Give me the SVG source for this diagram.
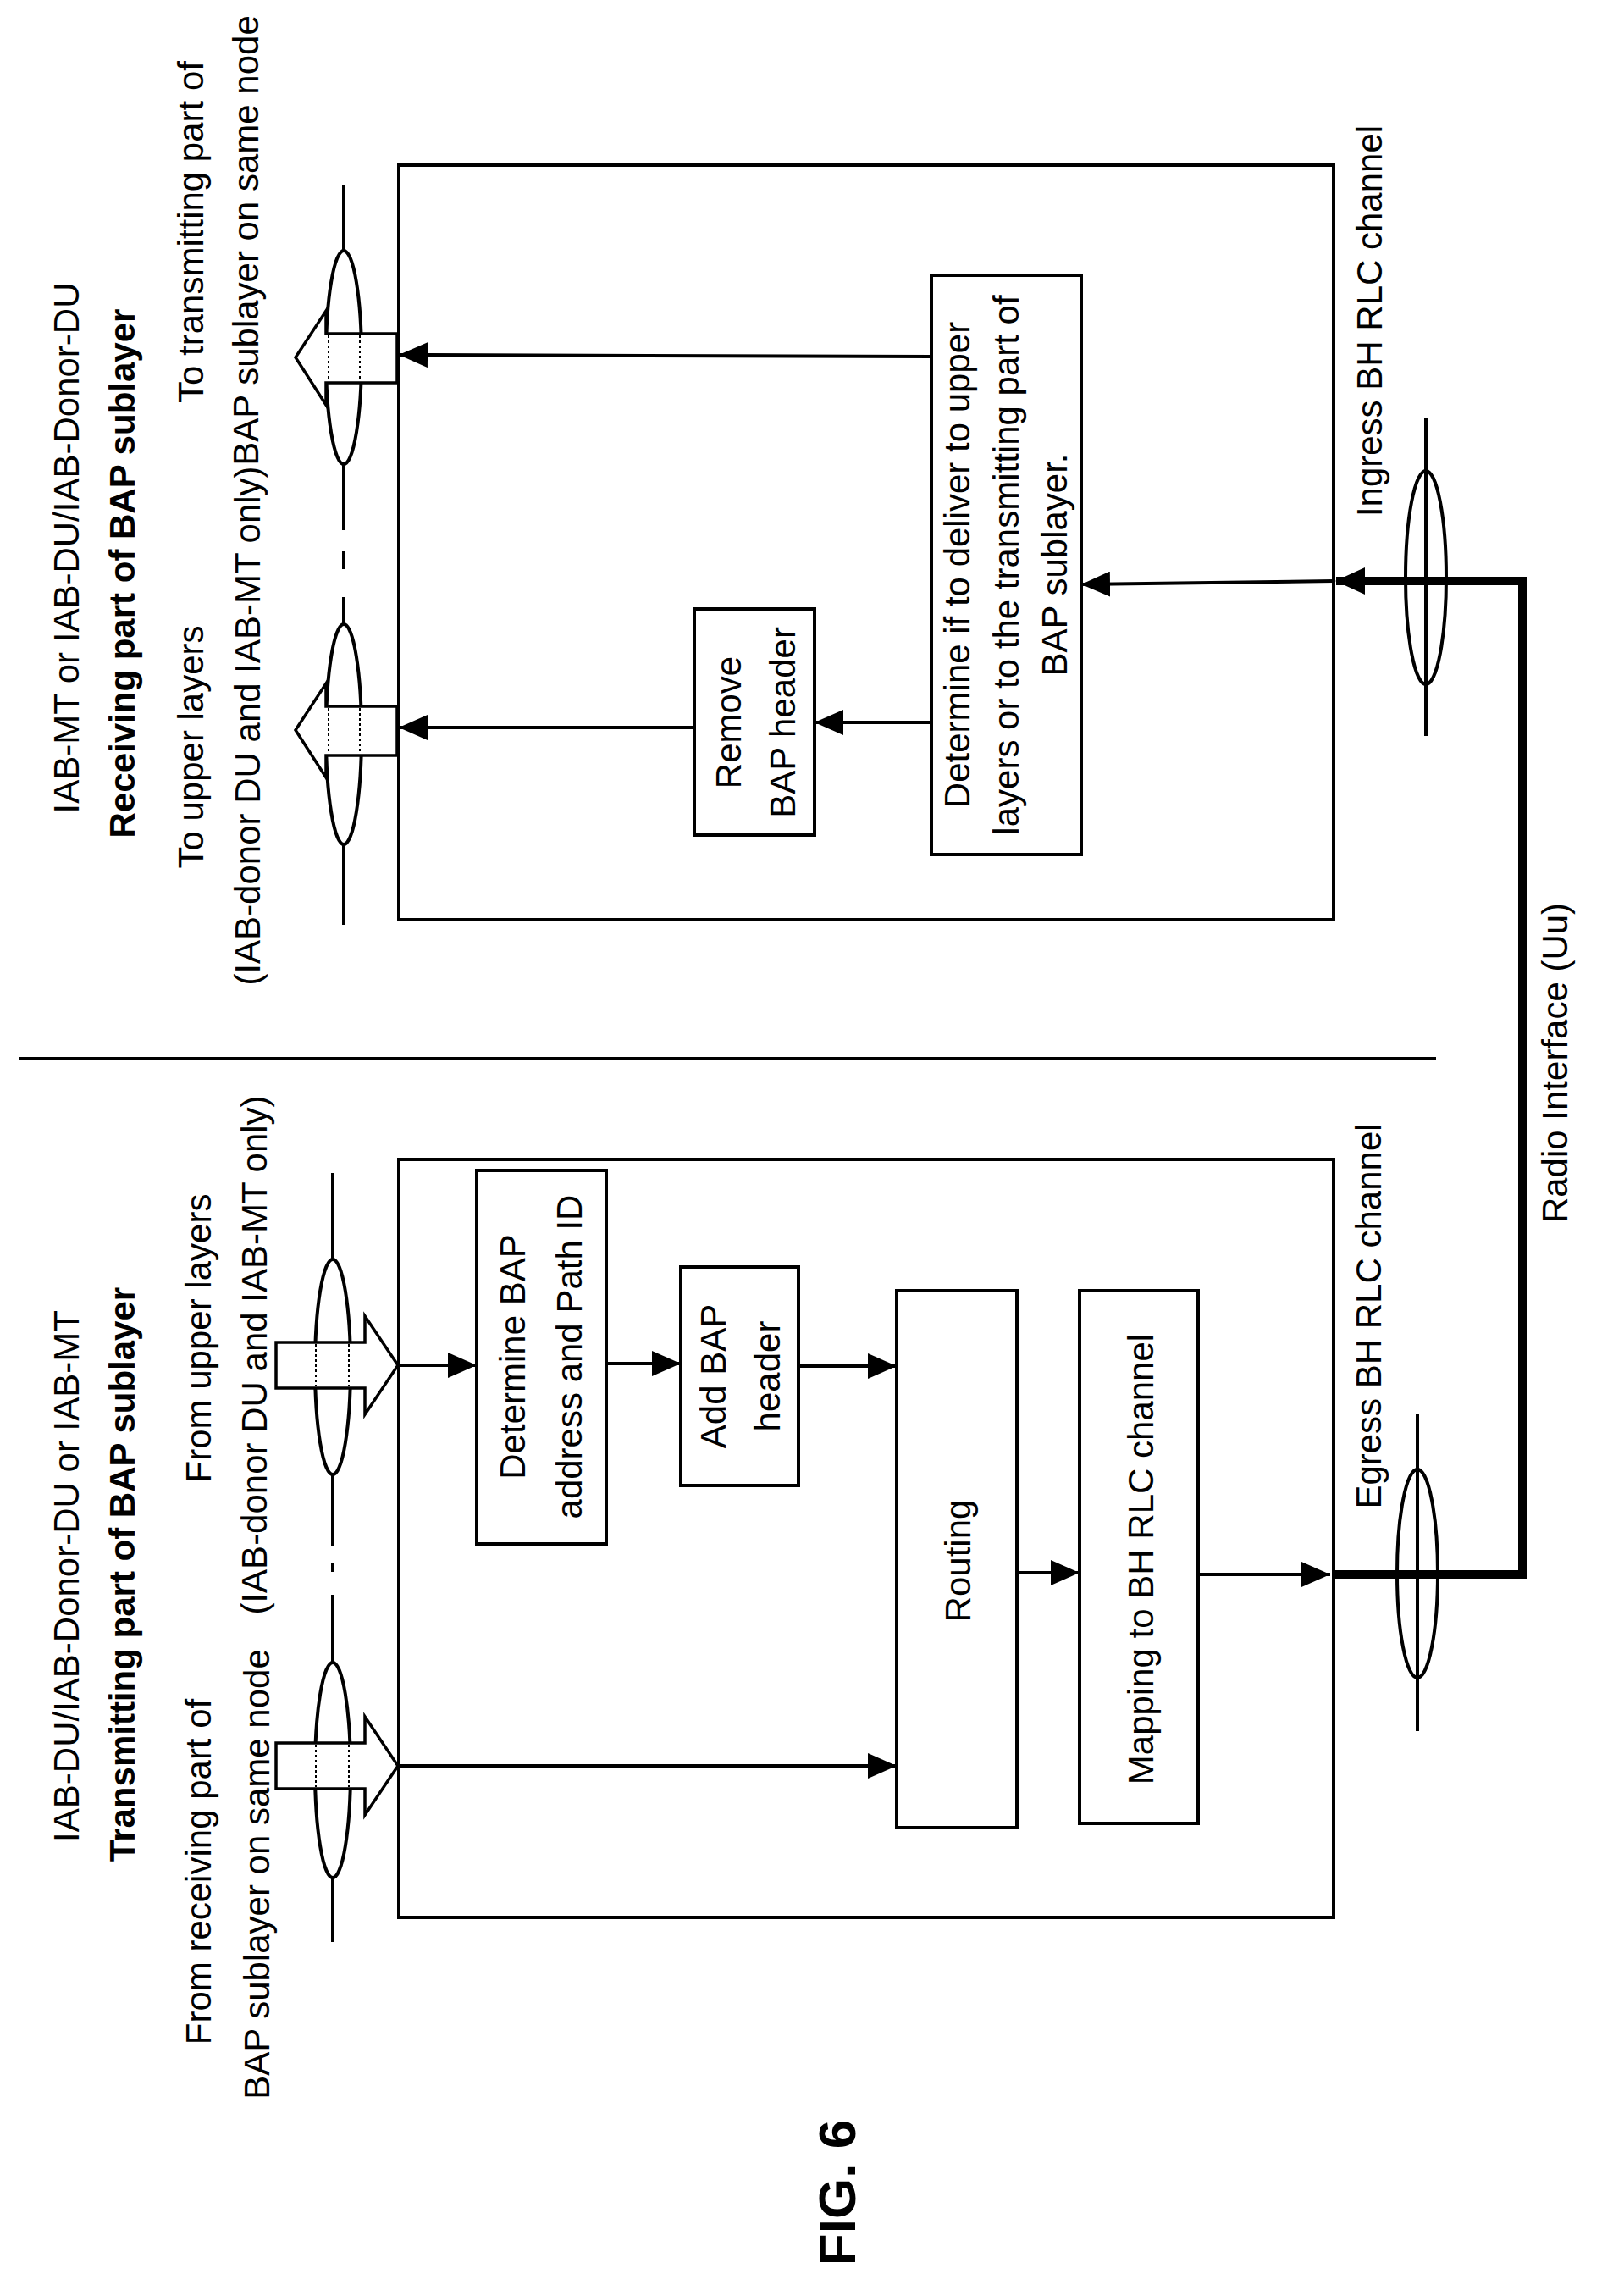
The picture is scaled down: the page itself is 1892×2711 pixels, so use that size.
<svg xmlns="http://www.w3.org/2000/svg" width="1892" height="2711" viewBox="0 0 1892 2711">
<style>
.t{font-family:"Liberation Sans",Arial,sans-serif;font-size:42px;fill:#000;text-anchor:middle;dominant-baseline:central}
.b{font-weight:bold}
.bx{fill:none;stroke:#000;stroke-width:4}
.ln{fill:none;stroke:#000;stroke-width:4}
.el{fill:#fff;stroke:#000;stroke-width:4}
.ha{fill:#fff;stroke:#000;stroke-width:3.5}
.hat{stroke:#000;stroke-width:2;stroke-dasharray:3 3}
.ar{fill:none;stroke:#000;stroke-width:4;marker-end:url(#ah)}
</style>
<defs>
<marker id="ah" markerUnits="userSpaceOnUse" markerWidth="36" markerHeight="30" refX="34" refY="15" orient="auto">
<path d="M0,0 L34,15 L0,30 Z" fill="#000"/>
</marker>
</defs>
<rect width="1892" height="2711" fill="#fff"/>

<!-- receiving part -->
<g id="rx_box"><rect class="bx" x="471" y="195" width="1104" height="891"/></g>
<g id="rx_title">
<text class="t" transform="translate(78,647) rotate(-90)">IAB-MT or IAB-DU/IAB-Donor-DU</text>
<text class="t b" transform="translate(144,677) rotate(-90)">Receiving part of BAP sublayer</text>
</g>
<g id="rx_port_tx">
<line class="ln" x1="406" y1="218" x2="406" y2="626"/>
<ellipse class="el" cx="406" cy="422" rx="21" ry="126"/>
<path class="ha" d="M469,394 L385,394 L385,367 L349,422 L385,478 L385,452 L469,452 Z"/>
<line class="hat" x1="388" y1="396" x2="388" y2="450"/>
<line class="hat" x1="425" y1="396" x2="425" y2="450"/>
<text class="t" transform="translate(225,274) rotate(-90)">To transmitting part of</text>
<text class="t" transform="translate(290,284) rotate(-90)">BAP sublayer on same node</text>
</g>
<g id="rx_port_upper">
<line class="ln" x1="406" y1="705" x2="406" y2="1092"/>
<line class="ln" x1="406" y1="651" x2="406" y2="672"/>
<ellipse class="el" cx="406" cy="867" rx="21" ry="130"/>
<path class="ha" d="M469,834 L385,834 L385,807 L349,862 L385,918 L385,892 L469,892 Z"/>
<line class="hat" x1="388" y1="836" x2="388" y2="890"/>
<line class="hat" x1="425" y1="836" x2="425" y2="890"/>
<text class="t" transform="translate(225,882) rotate(-90)">To upper layers</text>
<text class="t" transform="translate(292,857) rotate(-90)">(IAB-donor DU and IAB-MT only)</text>
</g>
<g id="remove_hdr">
<rect class="bx" x="820" y="719" width="142" height="267"/>
<text class="t" transform="translate(860,853) rotate(-90)">Remove</text>
<text class="t" transform="translate(924,853) rotate(-90)">BAP header</text>
</g>
<g id="determine_if">
<rect class="bx" x="1100" y="325" width="177" height="684"/>
<text class="t" transform="translate(1130,667) rotate(-90)">Determine if to deliver to upper</text>
<text class="t" transform="translate(1188,667) rotate(-90)">layers or to the transmitting part of</text>
<text class="t" transform="translate(1245,667) rotate(-90)">BAP sublayer.</text>
</g>
<g id="ingress">
<line class="ln" x1="1684" y1="494" x2="1684" y2="869"/>
<ellipse class="el" cx="1684" cy="682" rx="24" ry="126" fill="none" style="fill:none"/>
<text class="t" transform="translate(1617,379) rotate(-90)">Ingress BH RLC channel</text>
</g>

<!-- divider -->
<line id="divider" class="ln" x1="22" y1="1250" x2="1696" y2="1250"/>

<!-- transmitting part -->
<g id="tx_box"><rect class="bx" x="471" y="1369" width="1104" height="895"/></g>
<g id="tx_title">
<text class="t" transform="translate(78,1861) rotate(-90)">IAB-DU/IAB-Donor-DU or IAB-MT</text>
<text class="t b" transform="translate(144,1859) rotate(-90)">Transmitting part of BAP sublayer</text>
</g>
<g id="tx_port_upper">
<line class="ln" x1="393" y1="1385" x2="393" y2="1825"/>
<line class="ln" x1="393" y1="1845" x2="393" y2="1856"/>
<ellipse class="el" cx="393" cy="1614" rx="21" ry="127"/>
<path class="ha" d="M326,1585 L431,1585 L431,1554 L470,1612 L431,1670 L431,1639 L326,1639 Z"/>
<line class="hat" x1="373" y1="1587" x2="373" y2="1637"/>
<line class="hat" x1="412" y1="1587" x2="412" y2="1637"/>
<text class="t" transform="translate(234,1580) rotate(-90)">From upper layers</text>
<text class="t" transform="translate(300,1600) rotate(-90)">(IAB-donor DU and IAB-MT only)</text>
</g>
<g id="tx_port_rx">
<line class="ln" x1="393" y1="1883" x2="393" y2="2293"/>
<ellipse class="el" cx="393" cy="2090" rx="21" ry="127"/>
<path class="ha" d="M326,2058 L431,2058 L431,2027 L470,2085 L431,2143 L431,2112 L326,2112 Z"/>
<line class="hat" x1="373" y1="2060" x2="373" y2="2110"/>
<line class="hat" x1="412" y1="2060" x2="412" y2="2110"/>
<text class="t" transform="translate(234,2210) rotate(-90)">From receiving part of</text>
<text class="t" transform="translate(303,2213) rotate(-90)">BAP sublayer on same node</text>
</g>
<g id="determine_bap">
<rect class="bx" x="563" y="1382" width="153" height="441"/>
<text class="t" transform="translate(605,1602) rotate(-90)">Determine BAP</text>
<text class="t" transform="translate(672,1602) rotate(-90)">address and Path ID</text>
</g>
<g id="add_hdr">
<rect class="bx" x="804" y="1496" width="139" height="258"/>
<text class="t" transform="translate(842,1625) rotate(-90)">Add BAP</text>
<text class="t" transform="translate(906,1625) rotate(-90)">header</text>
</g>
<g id="routing">
<rect class="bx" x="1059" y="1524" width="142" height="634"/>
<text class="t" transform="translate(1131,1843) rotate(-90)">Routing</text>
</g>
<g id="mapping">
<rect class="bx" x="1275" y="1524" width="140" height="629"/>
<text class="t" transform="translate(1347,1841) rotate(-90)">Mapping to BH RLC channel</text>
</g>
<g id="egress">
<line class="ln" x1="1674" y1="1670" x2="1674" y2="2044"/>
<ellipse class="el" cx="1674" cy="1858" rx="24" ry="123" style="fill:none"/>
<text class="t" transform="translate(1616,1554) rotate(-90)">Egress BH RLC channel</text>
</g>
<g id="radio_label">
<text class="t" transform="translate(1836,1255) rotate(-90)">Radio Interface (Uu)</text>
</g>
<g id="fig_label">
<text class="t b" style="font-size:62px" transform="translate(988,2589) rotate(-90)">FIG. 6</text>
</g>

<!-- connectors -->
<g id="connectors">
<line class="ar" x1="1100" y1="421" x2="471" y2="419"/>
<line class="ar" x1="1100" y1="853" x2="962" y2="853"/>
<line class="ar" x1="820" y1="859" x2="471" y2="859"/>
<line class="ar" x1="1575" y1="686" x2="1277" y2="690"/>
<path d="M1575,1859 L1798,1859 L1798,686 L1578,686" fill="none" stroke="#000" stroke-width="10"/>
<path d="M1612,670 L1577,686 L1612,702 Z" fill="#000"/>
<line class="ar" x1="471" y1="1612" x2="563" y2="1612"/>
<line class="ar" x1="716" y1="1610" x2="804" y2="1610"/>
<line class="ar" x1="943" y1="1613" x2="1059" y2="1613"/>
<line class="ar" x1="471" y1="2085" x2="1059" y2="2085"/>
<line class="ar" x1="1201" y1="1857" x2="1275" y2="1857"/>
<line class="ar" x1="1415" y1="1859" x2="1571" y2="1859"/>
</g>
</svg>
